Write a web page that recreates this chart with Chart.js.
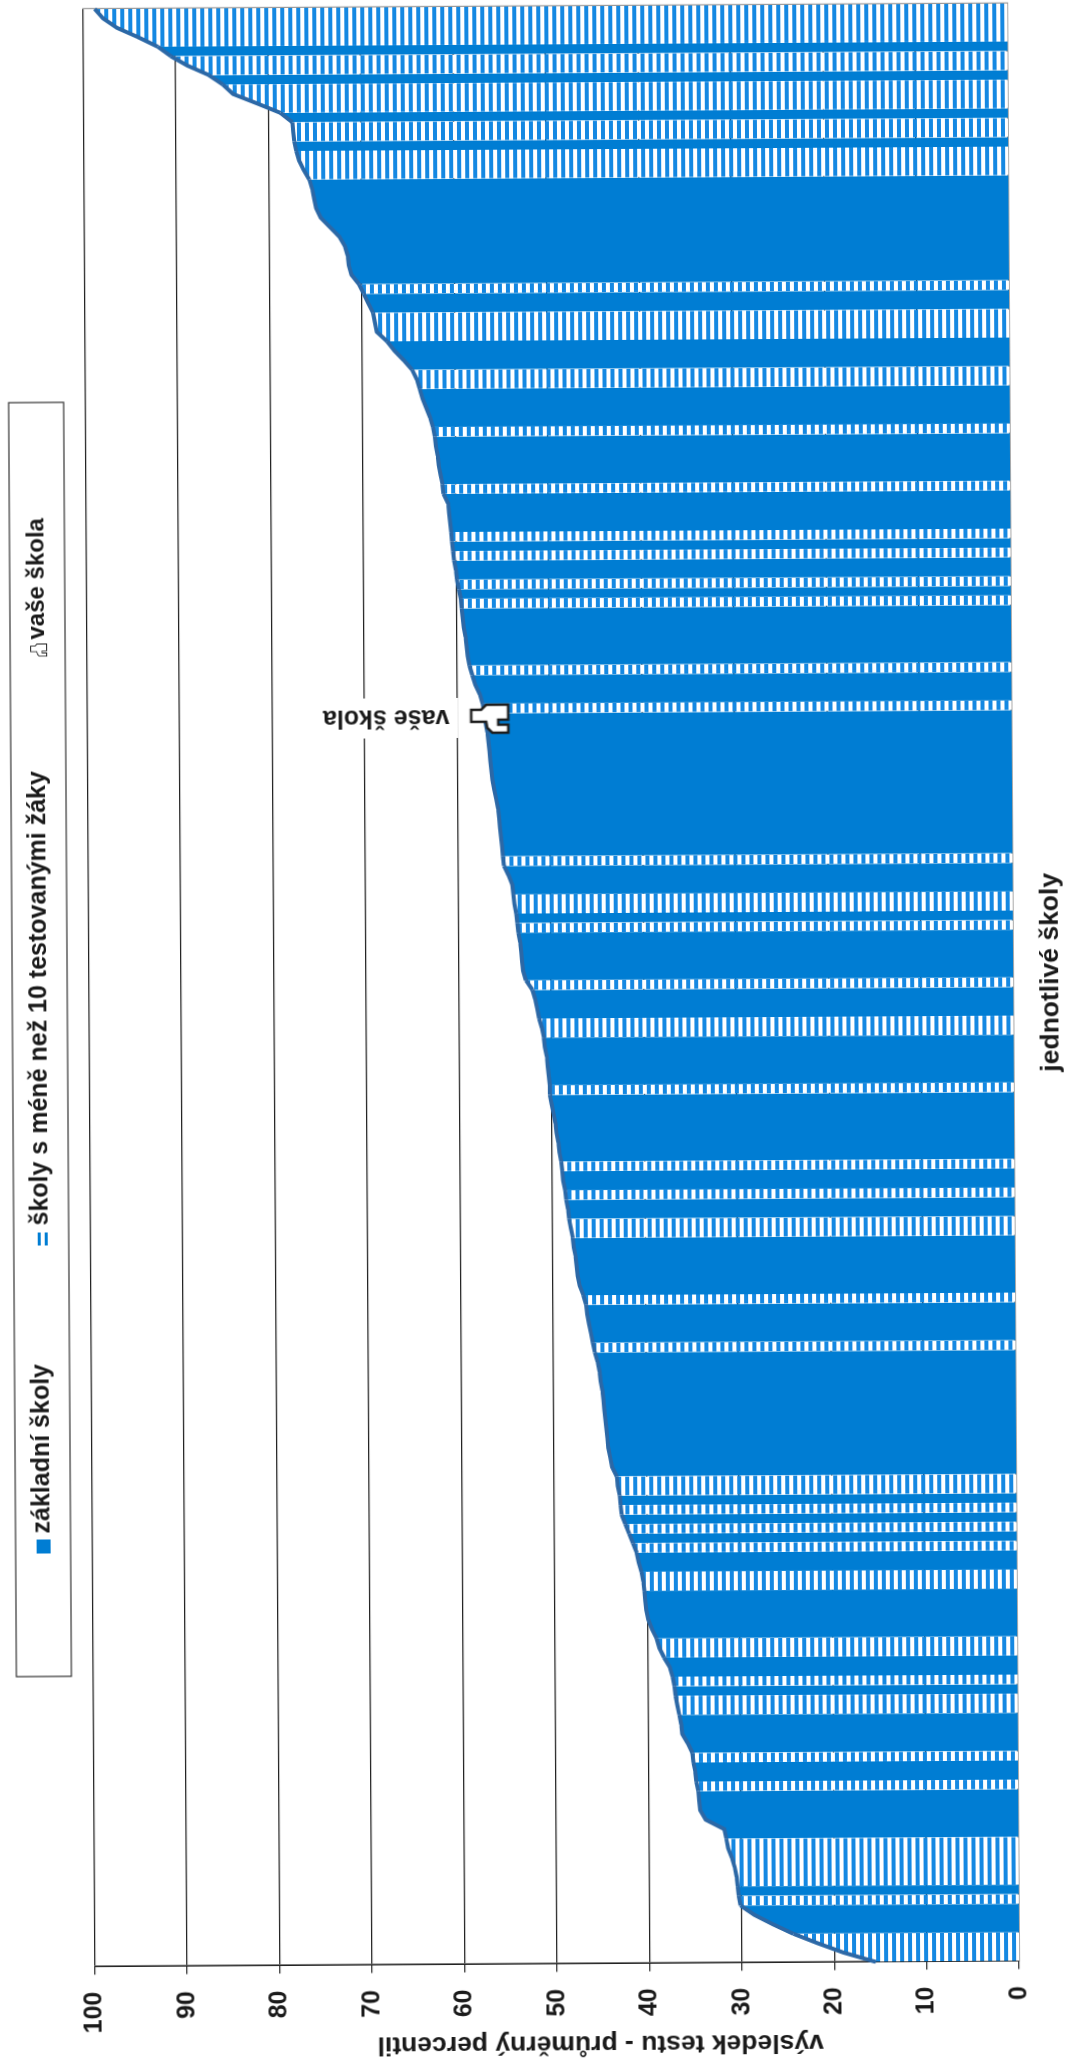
<!DOCTYPE html>
<html lang="cs">
<head>
<meta charset="utf-8">
<title>Výsledek testu</title>
<script src="https://cdn.jsdelivr.net/npm/chart.js@4"></script>
<style>
  html, body { margin: 0; padding: 0; background: #fff; overflow: hidden; width: 1066px; height: 2069px; }
  /* the original sheet is landscape and was scanned lying on its side */
  #list { position: absolute; left: -501.5px; top: 501.5px; width: 2069px; height: 1066px; transform: rotate(-90.35deg); }
</style>
</head>
<body>
<div id="list"><canvas id="graf" width="2069" height="1066"></canvas></div>
<script>
// prumerny percentil, skoly serazene od nejhorsi po nejlepsi
const vysledky = [
  15.5, 19.0, 21.8, 24.4, 26.6, 28.6, 30.1, 30.3, 30.4, 30.5,
  30.7, 31.0, 31.4, 31.6, 31.8, 33.8, 34.4, 34.5, 34.6, 34.8,
  34.9, 35.1, 35.2, 35.7, 36.3, 36.4, 36.6, 36.8, 37.0, 37.1,
  37.3, 37.6, 38.2, 38.7, 39.0, 39.5, 39.9, 40.1, 40.2, 40.3,
  40.4, 40.6, 40.9, 41.1, 41.5, 41.9, 42.3, 42.7, 42.8, 42.9,
  43.1, 43.2, 43.7, 43.9, 44.1, 44.2, 44.3, 44.4, 44.5, 44.6,
  44.7, 44.9, 45.0, 45.2, 45.5, 45.7, 45.9, 46.1, 46.3, 46.4,
  46.7, 47.1, 47.3, 47.4, 47.5, 47.7, 47.8, 48.0, 48.2, 48.3,
  48.5, 48.6, 48.8, 48.9, 49.0, 49.2, 49.3, 49.5, 49.6, 49.8,
  50.0, 50.2, 50.2, 50.3, 50.4, 50.5, 50.7, 50.8, 51.0, 51.3,
  51.5, 51.7, 52.0, 52.7, 53.0, 53.1, 53.2, 53.3, 53.5, 53.6,
  53.7, 53.9, 54.0, 54.1, 54.5, 55.0, 55.1, 55.2, 55.3, 55.4,
  55.5, 55.6, 55.8, 56.0, 56.2, 56.3, 56.4, 56.5, 56.6, 56.7,
  56.9, 57.0, 57.2, 57.5, 58.0, 58.3, 58.6, 58.8, 58.9, 59.0,
  59.2, 59.3, 59.4, 59.5, 59.7, 59.9, 60.0, 60.2, 60.3, 60.4,
  60.5, 60.6, 60.7, 60.8, 61.3, 61.4, 61.6, 61.8, 61.9, 62.1,
  62.2, 62.4, 62.7, 63.1, 63.5, 63.8, 64.1, 64.6, 65.5, 66.5,
  67.3, 68.4, 68.6, 68.8, 69.3, 69.8, 70.3, 71.1, 71.4, 71.5,
  71.8, 72.4, 73.4, 74.4, 74.9, 75.1, 75.3, 75.6, 76.2, 76.7,
  77.0, 77.2, 77.3, 77.4, 78.7, 81.2, 83.8, 84.9, 86.4, 88.7,
  90.5, 91.9, 94.0, 96.3, 97.8, 98.7
];
const skoly = vysledky.map((v, i) => i + 1);

// skoly s mene nez 10 testovanymi zaky (poradi zleva)
const maleSkoly = [
  0, 1, 2, 6, 8, 9, 10, 11, 12, 18, 21, 26, 27, 29, 32, 33, 39, 40, 43, 45, 47, 49, 50,
  64, 69, 76, 77, 80, 83, 91, 97, 98, 102, 108, 110, 111, 115, 131, 135, 142, 144, 147,
  149, 154, 160, 165, 166, 170, 171, 172, 175, 187, 188, 189, 191, 192, 194, 195, 196,
  198, 199, 201, 202, 203, 204
];

const vaseSkolaIndex = 130;
const vaseSkolaHodnota = 56.4;
const vaseSkolaData = skoly.map((s, i) => (i === vaseSkolaIndex ? vaseSkolaHodnota : null));

const hodnotyOsy = [0, 10, 20, 30, 40, 50, 60, 70, 80, 90, 100];
const popisky = ['základní školy', 'školy s méně než 10 testovanými žáky', 'vaše škola'];
const popisekOsyY = 'výsledek testu - průměrný percentil';
const popisekOsyX = 'jednotlivé školy';

const modra = '#007dd3';
const modraSrafy = '#1488e2';
const obrys = '#2c68a6';
const pismo = '"Liberation Sans", Arial, sans-serif';

function platno(w, h) {
    const c = document.createElement('canvas');
    c.width = w;
    c.height = h;
    return c;
}

// srafovani: vodorovne bile pruhy na modre
function vzorek() {
    const c = platno(8, 8);
    const g = c.getContext('2d');
    g.fillStyle = modraSrafy;
    g.fillRect(0, 0, 8, 8);
    g.fillStyle = '#fff';
    g.fillRect(0, 2, 8, 4);
    return c;
}

// ruka se vztycenym prstem
function ikonaRuky(sirkaCary) {
    const c = platno(48, 44);
    const g = c.getContext('2d');
    g.translate(28, 22);
    g.beginPath();
    const body = [[-3, -19], [9, -19], [9, -9], [14, -4], [14, 18], [-1, 18], [-1, 8], [-6, 8], [-6, 18],
                  [-14, 18], [-14, 2], [-9, -3], [-3, -4]];
    body.forEach((b, i) => (i ? g.lineTo(b[0], b[1]) : g.moveTo(b[0], b[1])));
    g.closePath();
    g.fillStyle = '#fff';
    g.fill();
    g.lineWidth = sirkaCary;
    g.strokeStyle = '#1c1c1c';
    g.stroke();
    return c;
}

const srafa = document.createElement('canvas').getContext('2d').createPattern(vzorek(), 'repeat');

function textNaVysku(g, text, x, y, font) {
    g.save();
    g.translate(x, y);
    g.rotate(-Math.PI / 2);
    g.font = font;
    g.fillStyle = '#1a1a1a';
    g.textAlign = 'center';
    g.textBaseline = 'middle';
    g.fillText(text, 0, 0);
    g.restore();
}

// ramecek s legendou nahore a popisky os
const legenda = {
    id: 'legenda',
    afterDraw(chart) {
        const g = chart.ctx;
        g.save();
        g.strokeStyle = '#333';
        g.lineWidth = 1.2;
        g.strokeRect(396, 12, 1274, 55);
        g.font = 'bold 25px ' + pismo;
        g.textBaseline = 'middle';
        g.fillStyle = modra;
        g.fillRect(519, 33, 14, 14);
        g.fillRect(827, 36, 13, 3);
        g.fillRect(827, 43, 13, 3);
        g.drawImage(ikonaRuky(2), 1410, 31, 21, 19);
        g.fillStyle = '#1a1a1a';
        g.fillText(popisky[0], 539, 39);
        g.fillText(popisky[1], 847, 39);
        g.font = 'bold 24px ' + pismo;
        g.fillText(popisky[2], 1433, 39);

        g.font = 'bold 26.5px ' + pismo;
        g.textAlign = 'center';
        g.fillText(popisekOsyX, 1094, 1051);
        g.restore();

        textNaVysku(g, popisekOsyY, 26, 594, 'bold 26.5px ' + pismo);
    }
};

// popisek u vasi skoly, psany podel osy hodnot
const popisekSkoly = {
    id: 'popisekSkoly',
    afterDatasetsDraw(chart) {
        const g = chart.ctx;
        const x = chart.scales.x.getPixelForValue(vaseSkolaIndex);
        const y = chart.scales.y.getPixelForValue(vaseSkolaHodnota);
        g.save();
        g.fillStyle = '#fff';
        g.fillRect(x - 15, y - 172, 40, 140);
        g.restore();
        textNaVysku(g, popisky[2], x + 6, y - 104, 'bold 25px ' + pismo);
    }
};

new Chart(document.getElementById('graf'), {
    type: 'line',
    data: {
        labels: skoly,
        datasets: [
            {
                label: popisky[0],
                data: vysledky,
                borderColor: obrys,
                borderWidth: 4,
                backgroundColor: modra,
                fill: 'origin',
                pointRadius: 0,
                tension: 0,
                segment: {
                    backgroundColor: ctx => (maleSkoly.includes(ctx.p0DataIndex) ? srafa : modra)
                }
            },
            {
                label: popisky[2],
                data: vaseSkolaData,
                showLine: false,
                order: -1,
                pointStyle: ikonaRuky(2.5),
                pointRadius: 1
            }
        ]
    },
    options: {
        responsive: false,
        animation: false,
        devicePixelRatio: 1,
        layout: { padding: { top: 88.5, right: 5.75 } },
        plugins: { legend: { display: false }, tooltip: { enabled: false } },
        scales: {
            x: {
                offset: false,
                grid: { display: false },
                border: { color: '#555', width: 1.2 },
                ticks: { display: false },
                afterFit(scale) { scale.height = 53; }
            },
            y: {
                min: 0,
                max: 100,
                afterBuildTicks(scale) { scale.ticks = hodnotyOsy.map(value => ({ value })); },
                afterFit(scale) { scale.width = 105.5; },
                grid: { color: '#222', lineWidth: 1.2, tickLength: 8 },
                border: { color: '#222', width: 1.6 },
                ticks: {
                    padding: 17,
                    color: '#1a1a1a',
                    font: { family: pismo, size: 25, weight: 'bold' }
                }
            },
            // jen seda cara na prave strane grafu
            y2: {
                position: 'right',
                min: 0,
                max: 100,
                afterFit(scale) { scale.width = 0; },
                grid: { display: false },
                border: { color: '#999', width: 1.2 },
                ticks: { display: false }
            }
        }
    },
    plugins: [legenda, popisekSkoly]
});
</script>
</body>
</html>
